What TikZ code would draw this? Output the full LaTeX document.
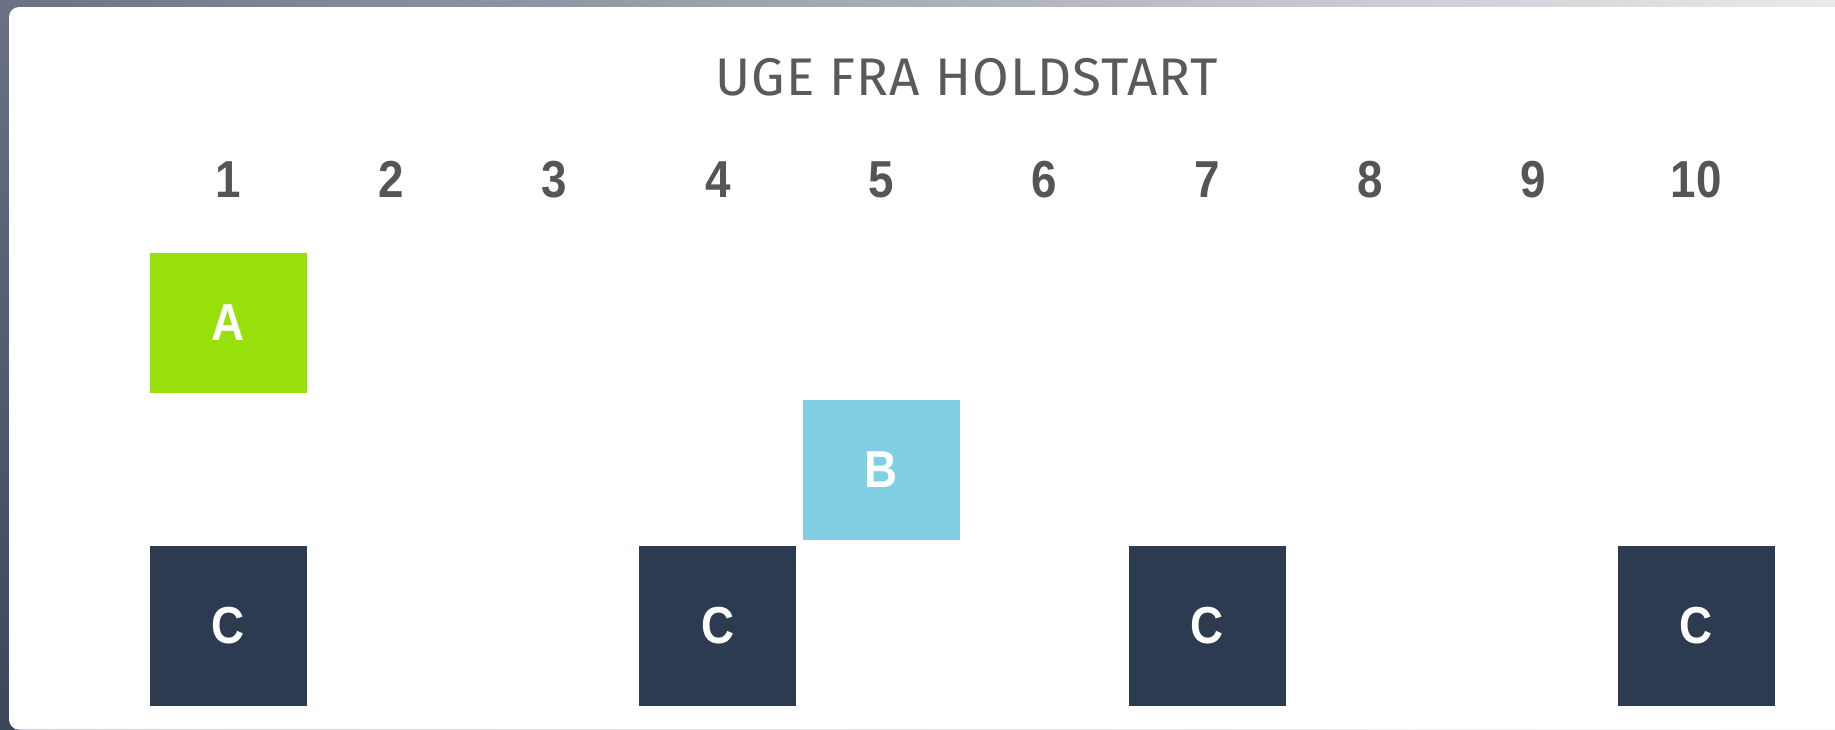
\documentclass[tikz,border=0pt]{standalone}
\usepackage{fontspec}
\setmainfont{Fira Sans}
\newfontfamily\titlefont[LetterSpace=2]{Fira Sans}
\newfontfamily\boldcond[FakeStretch=0.88]{Liberation Sans}
\definecolor{agreen}{HTML}{97E00A}
\definecolor{bblue}{HTML}{81CFE2}
\definecolor{cnavy}{HTML}{2D3B51}
\definecolor{txtgray}{HTML}{5A5A5A}
\definecolor{numgray}{HTML}{555555}
\definecolor{bgleft}{HTML}{6A7284}
\definecolor{bgright}{HTML}{EAEAEC}
\definecolor{bgbottom}{HTML}{3A4659}
\tikzset{
  weekbox/.style={minimum width=157pt, inner sep=0pt, text=white,
    font=\boldcond\bfseries\fontsize{52}{52}\selectfont},
  weeknum/.style={anchor=base, text=numgray, inner sep=0pt,
    font=\boldcond\bfseries\fontsize{52}{52}\selectfont},
  titletext/.style={anchor=base, text=txtgray, inner sep=0pt,
    font=\titlefont\fontsize{53}{53}\selectfont}
}
\begin{document}
\begin{tikzpicture}[x=1pt,y=-1pt]
\useasboundingbox (0,0) rectangle (1835,729);
\clip (0,0) rectangle (1835,729);
\shade[left color=bgleft, right color=bgright] (0,0) rectangle (1835,729);
\shade[top color=bgleft, bottom color=bgbottom] (0,0) rectangle (14,729);
\fill[white, rounded corners=10pt] (9,7) rectangle (1850,729.5);

\node[titletext] (title) at (967,95.5) {UGE FRA HOLDSTART};

\foreach \i in {1,...,10}
  \node[weeknum] (n\i) at ({228.5+(\i-1)*163.1},197) {\i};

\node[weekbox, fill=agreen, minimum height=140pt] (A) at (228.5,323) {A};
\node[weekbox, fill=bblue, minimum height=140pt] (B) at (881,470) {B};
\node[weekbox, fill=cnavy, minimum height=160pt] (C1) at (228.5,626) {C};
\node[weekbox, fill=cnavy, minimum height=160pt] (C2) at (717.8,626) {C};
\node[weekbox, fill=cnavy, minimum height=160pt] (C3) at (1207.1,626) {C};
\node[weekbox, fill=cnavy, minimum height=160pt] (C4) at (1696.4,626) {C};
\end{tikzpicture}
\end{document}
